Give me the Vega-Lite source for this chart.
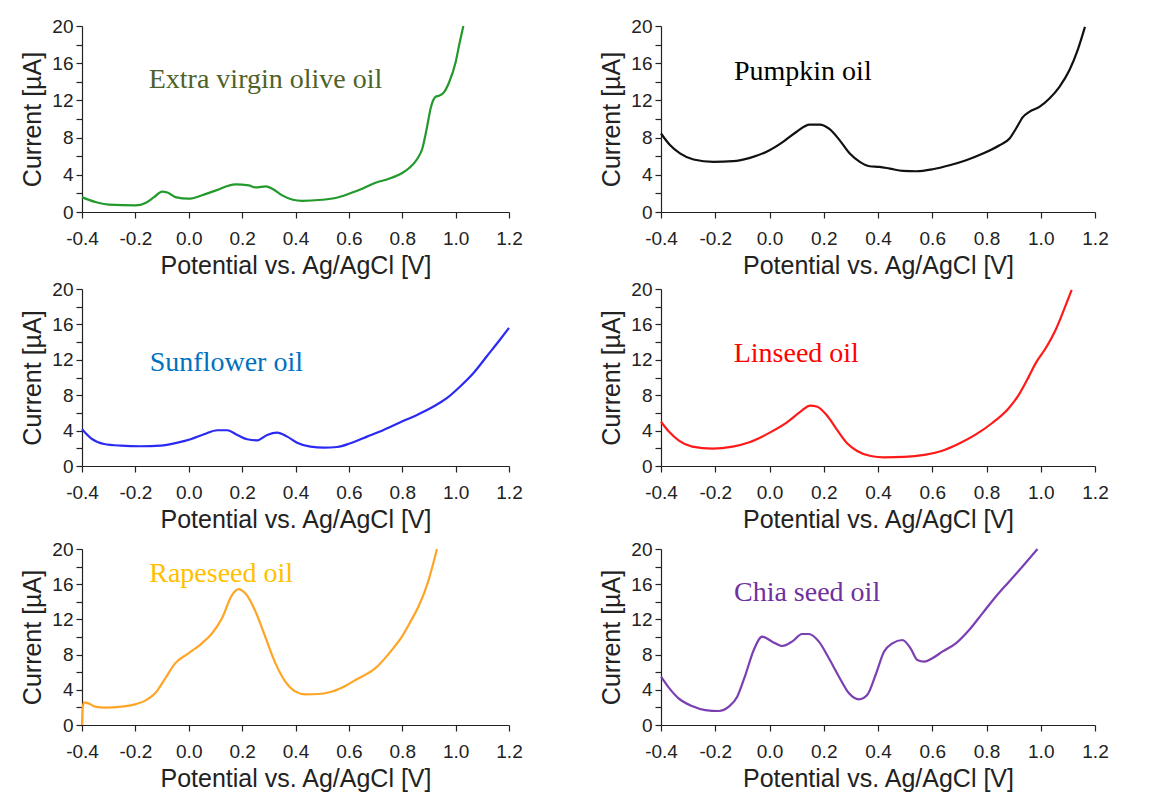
{
  "$schema": "https://vega.github.io/schema/vega-lite/v6.json",
  "background": "white",
  "padding": {"left": 20, "top": 17, "right": 5, "bottom": 5},
  "datasets": {
    "olive": [
      {"potential": -0.4, "current": 1.6}, {"potential": -0.35, "current": 1.07}, {"potential": -0.3, "current": 0.79},
      {"potential": -0.2, "current": 0.71}, {"potential": -0.16, "current": 1.0}, {"potential": -0.13, "current": 1.6},
      {"potential": -0.1, "current": 2.2}, {"potential": -0.08, "current": 2.1}, {"potential": -0.05, "current": 1.6},
      {"potential": 0.0, "current": 1.43}, {"potential": 0.05, "current": 1.8}, {"potential": 0.1, "current": 2.3},
      {"potential": 0.175, "current": 2.96}, {"potential": 0.225, "current": 2.86}, {"potential": 0.25, "current": 2.64},
      {"potential": 0.29, "current": 2.75}, {"potential": 0.3125, "current": 2.5}, {"potential": 0.35, "current": 1.79},
      {"potential": 0.39, "current": 1.32}, {"potential": 0.425, "current": 1.2}, {"potential": 0.5, "current": 1.32},
      {"potential": 0.55, "current": 1.5}, {"potential": 0.6, "current": 1.96}, {"potential": 0.65, "current": 2.5},
      {"potential": 0.7, "current": 3.14}, {"potential": 0.75, "current": 3.57}, {"potential": 0.8, "current": 4.2},
      {"potential": 0.825, "current": 4.7}, {"potential": 0.856, "current": 5.7}, {"potential": 0.875, "current": 6.8},
      {"potential": 0.894, "current": 9.3}, {"potential": 0.906, "current": 11.1}, {"potential": 0.925, "current": 12.4},
      {"potential": 0.9375, "current": 12.5}, {"potential": 0.956, "current": 12.86}, {"potential": 0.975, "current": 13.9},
      {"potential": 1.0, "current": 16.1}, {"potential": 1.015, "current": 18.2}, {"potential": 1.029, "current": 20}
    ],
    "pumpkin": [
      {"potential": -0.4, "current": 8.44}, {"potential": -0.367, "current": 7.2}, {"potential": -0.33, "current": 6.3},
      {"potential": -0.28, "current": 5.64}, {"potential": -0.207, "current": 5.39}, {"potential": -0.134, "current": 5.46},
      {"potential": -0.072, "current": 5.82}, {"potential": 0.0, "current": 6.64}, {"potential": 0.05, "current": 7.54},
      {"potential": 0.099, "current": 8.6}, {"potential": 0.148, "current": 9.4}, {"potential": 0.185, "current": 9.4},
      {"potential": 0.222, "current": 8.9}, {"potential": 0.259, "current": 7.7}, {"potential": 0.296, "current": 6.28},
      {"potential": 0.333, "current": 5.39}, {"potential": 0.369, "current": 4.92}, {"potential": 0.406, "current": 4.85},
      {"potential": 0.443, "current": 4.67}, {"potential": 0.492, "current": 4.42}, {"potential": 0.541, "current": 4.38},
      {"potential": 0.602, "current": 4.6}, {"potential": 0.664, "current": 5.03}, {"potential": 0.725, "current": 5.57},
      {"potential": 0.787, "current": 6.28}, {"potential": 0.848, "current": 7.18}, {"potential": 0.885, "current": 7.9},
      {"potential": 0.909, "current": 8.98}, {"potential": 0.934, "current": 10.2}, {"potential": 0.958, "current": 10.77},
      {"potential": 0.995, "current": 11.3}, {"potential": 1.032, "current": 12.2}, {"potential": 1.069, "current": 13.46},
      {"potential": 1.106, "current": 15.26}, {"potential": 1.136, "current": 17.4}, {"potential": 1.163, "current": 19.9}
    ],
    "sunflower": [
      {"potential": -0.4, "current": 4.15}, {"potential": -0.366, "current": 3.13}, {"potential": -0.317, "current": 2.49},
      {"potential": -0.254, "current": 2.3}, {"potential": -0.18, "current": 2.23}, {"potential": -0.105, "current": 2.3},
      {"potential": -0.042, "current": 2.64}, {"potential": 0.007, "current": 3.02}, {"potential": 0.057, "current": 3.58},
      {"potential": 0.107, "current": 4.04}, {"potential": 0.145, "current": 4.04}, {"potential": 0.182, "current": 3.51},
      {"potential": 0.219, "current": 3.02}, {"potential": 0.257, "current": 2.9}, {"potential": 0.294, "current": 3.51},
      {"potential": 0.331, "current": 3.77}, {"potential": 0.369, "current": 3.32}, {"potential": 0.406, "current": 2.64},
      {"potential": 0.456, "current": 2.19}, {"potential": 0.506, "current": 2.08}, {"potential": 0.556, "current": 2.15},
      {"potential": 0.606, "current": 2.57}, {"potential": 0.668, "current": 3.32}, {"potential": 0.73, "current": 4.08},
      {"potential": 0.793, "current": 4.94}, {"potential": 0.855, "current": 5.77}, {"potential": 0.917, "current": 6.72},
      {"potential": 0.967, "current": 7.66}, {"potential": 1.017, "current": 8.98}, {"potential": 1.067, "current": 10.5},
      {"potential": 1.117, "current": 12.4}, {"potential": 1.166, "current": 14.26}, {"potential": 1.2, "current": 15.6}
    ],
    "linseed": [
      {"potential": -0.4, "current": 5.0}, {"potential": -0.371, "current": 3.89}, {"potential": -0.334, "current": 2.87},
      {"potential": -0.285, "current": 2.19}, {"potential": -0.21, "current": 1.96}, {"potential": -0.136, "current": 2.19},
      {"potential": -0.074, "current": 2.68}, {"potential": 0.001, "current": 3.77}, {"potential": 0.063, "current": 4.9},
      {"potential": 0.112, "current": 6.08}, {"potential": 0.15, "current": 6.83}, {"potential": 0.174, "current": 6.72},
      {"potential": 0.212, "current": 5.7}, {"potential": 0.249, "current": 4.08}, {"potential": 0.286, "current": 2.57},
      {"potential": 0.323, "current": 1.7}, {"potential": 0.373, "current": 1.13}, {"potential": 0.423, "current": 0.98},
      {"potential": 0.497, "current": 1.02}, {"potential": 0.571, "current": 1.25}, {"potential": 0.634, "current": 1.7},
      {"potential": 0.696, "current": 2.49}, {"potential": 0.758, "current": 3.51}, {"potential": 0.82, "current": 4.83},
      {"potential": 0.882, "current": 6.53}, {"potential": 0.919, "current": 8.04}, {"potential": 0.956, "current": 10.1},
      {"potential": 0.981, "current": 11.6}, {"potential": 1.018, "current": 13.3}, {"potential": 1.055, "current": 15.4},
      {"potential": 1.086, "current": 17.7}, {"potential": 1.114, "current": 19.9}
    ],
    "rapeseed": [
      {"potential": -0.4, "current": 0}, {"potential": -0.397, "current": 2.08}, {"potential": -0.391, "current": 2.58},
      {"potential": -0.376, "current": 2.46}, {"potential": -0.351, "current": 2.08}, {"potential": -0.314, "current": 1.97},
      {"potential": -0.251, "current": 2.08}, {"potential": -0.201, "current": 2.35}, {"potential": -0.163, "current": 2.77},
      {"potential": -0.126, "current": 3.6}, {"potential": -0.088, "current": 5.3}, {"potential": -0.051, "current": 7.0},
      {"potential": -0.001, "current": 8.14}, {"potential": 0.049, "current": 9.28}, {"potential": 0.087, "current": 10.4},
      {"potential": 0.124, "current": 12.1}, {"potential": 0.162, "current": 14.77}, {"potential": 0.187, "current": 15.45},
      {"potential": 0.212, "current": 14.96}, {"potential": 0.25, "current": 12.9}, {"potential": 0.287, "current": 10.0},
      {"potential": 0.325, "current": 7.0}, {"potential": 0.362, "current": 4.92}, {"potential": 0.4, "current": 3.79},
      {"potential": 0.437, "current": 3.48}, {"potential": 0.487, "current": 3.52}, {"potential": 0.537, "current": 3.8},
      {"potential": 0.59, "current": 4.5}, {"potential": 0.63, "current": 5.2}, {"potential": 0.697, "current": 6.4},
      {"potential": 0.763, "current": 8.6}, {"potential": 0.8, "current": 10.1}, {"potential": 0.83, "current": 11.7},
      {"potential": 0.863, "current": 13.6}, {"potential": 0.897, "current": 16.3}, {"potential": 0.919, "current": 18.7},
      {"potential": 0.93, "current": 20}
    ],
    "chia": [
      {"potential": -0.4, "current": 5.49}, {"potential": -0.372, "current": 4.28}, {"potential": -0.335, "current": 3.03},
      {"potential": -0.286, "current": 2.16}, {"potential": -0.237, "current": 1.7}, {"potential": -0.187, "current": 1.59},
      {"potential": -0.15, "current": 2.08}, {"potential": -0.119, "current": 3.22}, {"potential": -0.089, "current": 5.68},
      {"potential": -0.058, "current": 8.52}, {"potential": -0.027, "current": 10.04}, {"potential": 0.01, "current": 9.47},
      {"potential": 0.047, "current": 8.98}, {"potential": 0.083, "current": 9.47}, {"potential": 0.12, "current": 10.34},
      {"potential": 0.145, "current": 10.34}, {"potential": 0.182, "current": 9.47}, {"potential": 0.219, "current": 7.58},
      {"potential": 0.256, "current": 5.49}, {"potential": 0.293, "current": 3.6}, {"potential": 0.33, "current": 2.92},
      {"potential": 0.36, "current": 3.41}, {"potential": 0.391, "current": 5.68}, {"potential": 0.422, "current": 8.33},
      {"potential": 0.453, "current": 9.28}, {"potential": 0.49, "current": 9.66}, {"potential": 0.52, "current": 8.71},
      {"potential": 0.545, "current": 7.39}, {"potential": 0.57, "current": 7.2}, {"potential": 0.6, "current": 7.58},
      {"potential": 0.637, "current": 8.33}, {"potential": 0.687, "current": 9.28}, {"potential": 0.736, "current": 10.8},
      {"potential": 0.785, "current": 12.69}, {"potential": 0.834, "current": 14.58}, {"potential": 0.883, "current": 16.29},
      {"potential": 0.932, "current": 17.99}, {"potential": 0.988, "current": 20}
    ],
    "labels": [
      {"panel": "olive", "label": "Extra virgin olive oil", "potential": -0.15, "current": 13.3},
      {"panel": "pumpkin", "label": "Pumpkin oil", "potential": -0.131, "current": 14.2},
      {"panel": "sunflower", "label": "Sunflower oil", "potential": -0.146, "current": 10.7},
      {"panel": "linseed", "label": "Linseed oil", "potential": -0.132, "current": 11.75},
      {"panel": "rapeseed", "label": "Rapeseed oil", "potential": -0.148, "current": 16.25},
      {"panel": "chia", "label": "Chia seed oil", "potential": -0.131, "current": 14.1}
    ]
  },
  "vconcat": [
    {
      "spacing": 76,
      "hconcat": [
        {
          "width": 427, "height": 186,
          "resolve": {"axis": {"y": "independent"}},
          "layer": [
            {"data": {"name": "olive"}, "mark": {"type": "line", "color": "#22992a", "strokeWidth": 2.2, "interpolate": "monotone"},
             "encoding": {
               "x": {"field": "potential", "type": "quantitative", "scale": {"domain": [-0.4, 1.2], "nice": false, "zero": false}, "axis": {"title": "Potential vs. Ag/AgCl [V]", "values": [-0.4, -0.2, 0, 0.2, 0.4, 0.6, 0.8, 1.0, 1.2], "labelExpr": "replace(format(datum.value, '.1f'), '\u2212', '-')"}},
               "y": {"field": "current", "type": "quantitative", "scale": {"domain": [0, 20], "nice": false}, "axis": {"title": "Current [\u00b5A]", "orient": "left", "values": [0, 4, 8, 12, 16, 20]}}
             }},
            {"data": {"name": "labels"}, "transform": [{"filter": "datum.panel == 'olive'"}], "mark": {"type": "text", "align": "left", "baseline": "alphabetic", "font": "Liberation Serif", "fontSize": 28, "color": "#4f6228"},
             "encoding": {"x": {"field": "potential", "type": "quantitative"}, "y": {"field": "current", "type": "quantitative", "axis": {"orient": "left", "values": [2, 6, 10, 14, 18], "labels": false, "title": null, "domain": false}}, "text": {"field": "label"}}}
          ]
        },
        {
          "width": 434, "height": 186,
          "resolve": {"axis": {"y": "independent"}},
          "layer": [
            {"data": {"name": "pumpkin"}, "mark": {"type": "line", "color": "#111111", "strokeWidth": 2.2, "interpolate": "monotone"},
             "encoding": {
               "x": {"field": "potential", "type": "quantitative", "scale": {"domain": [-0.4, 1.2], "nice": false, "zero": false}, "axis": {"title": "Potential vs. Ag/AgCl [V]", "values": [-0.4, -0.2, 0, 0.2, 0.4, 0.6, 0.8, 1.0, 1.2], "labelExpr": "replace(format(datum.value, '.1f'), '\u2212', '-')"}},
               "y": {"field": "current", "type": "quantitative", "scale": {"domain": [0, 20], "nice": false}, "axis": {"title": "Current [\u00b5A]", "orient": "left", "values": [0, 4, 8, 12, 16, 20]}}
             }},
            {"data": {"name": "labels"}, "transform": [{"filter": "datum.panel == 'pumpkin'"}], "mark": {"type": "text", "align": "left", "baseline": "alphabetic", "font": "Liberation Serif", "fontSize": 28, "color": "#000000"},
             "encoding": {"x": {"field": "potential", "type": "quantitative"}, "y": {"field": "current", "type": "quantitative", "axis": {"orient": "left", "values": [2, 6, 10, 14, 18], "labels": false, "title": null, "domain": false}}, "text": {"field": "label"}}}
          ]
        }
      ]
    },
    {
      "spacing": 8,
      "vconcat": [
        {
          "spacing": 76,
          "hconcat": [
            {
              "width": 427, "height": 177,
              "resolve": {"axis": {"y": "independent"}},
              "layer": [
                {"data": {"name": "sunflower"}, "mark": {"type": "line", "color": "#2a2af2", "strokeWidth": 2.2, "interpolate": "monotone"},
                 "encoding": {
                   "x": {"field": "potential", "type": "quantitative", "scale": {"domain": [-0.4, 1.2], "nice": false, "zero": false}, "axis": {"title": "Potential vs. Ag/AgCl [V]", "values": [-0.4, -0.2, 0, 0.2, 0.4, 0.6, 0.8, 1.0, 1.2], "labelExpr": "replace(format(datum.value, '.1f'), '\u2212', '-')"}},
                   "y": {"field": "current", "type": "quantitative", "scale": {"domain": [0, 20], "nice": false}, "axis": {"title": "Current [\u00b5A]", "orient": "left", "values": [0, 4, 8, 12, 16, 20]}}
                 }},
                {"data": {"name": "labels"}, "transform": [{"filter": "datum.panel == 'sunflower'"}], "mark": {"type": "text", "align": "left", "baseline": "alphabetic", "font": "Liberation Serif", "fontSize": 28, "color": "#0070c0"},
                 "encoding": {"x": {"field": "potential", "type": "quantitative"}, "y": {"field": "current", "type": "quantitative", "axis": {"orient": "left", "values": [2, 6, 10, 14, 18], "labels": false, "title": null, "domain": false}}, "text": {"field": "label"}}}
              ]
            },
            {
              "width": 434, "height": 177,
              "resolve": {"axis": {"y": "independent"}},
              "layer": [
                {"data": {"name": "linseed"}, "mark": {"type": "line", "color": "#ff1a1a", "strokeWidth": 2.2, "interpolate": "monotone"},
                 "encoding": {
                   "x": {"field": "potential", "type": "quantitative", "scale": {"domain": [-0.4, 1.2], "nice": false, "zero": false}, "axis": {"title": "Potential vs. Ag/AgCl [V]", "values": [-0.4, -0.2, 0, 0.2, 0.4, 0.6, 0.8, 1.0, 1.2], "labelExpr": "replace(format(datum.value, '.1f'), '\u2212', '-')"}},
                   "y": {"field": "current", "type": "quantitative", "scale": {"domain": [0, 20], "nice": false}, "axis": {"title": "Current [\u00b5A]", "orient": "left", "values": [0, 4, 8, 12, 16, 20]}}
                 }},
                {"data": {"name": "labels"}, "transform": [{"filter": "datum.panel == 'linseed'"}], "mark": {"type": "text", "align": "left", "baseline": "alphabetic", "font": "Liberation Serif", "fontSize": 28, "color": "#ff0000"},
                 "encoding": {"x": {"field": "potential", "type": "quantitative"}, "y": {"field": "current", "type": "quantitative", "axis": {"orient": "left", "values": [2, 6, 10, 14, 18], "labels": false, "title": null, "domain": false}}, "text": {"field": "label"}}}
              ]
            }
          ]
        },
        {
          "spacing": 76,
          "hconcat": [
            {
              "width": 427, "height": 176,
              "resolve": {"axis": {"y": "independent"}},
              "layer": [
                {"data": {"name": "rapeseed"}, "mark": {"type": "line", "color": "#ffa526", "strokeWidth": 2.2, "interpolate": "monotone"},
                 "encoding": {
                   "x": {"field": "potential", "type": "quantitative", "scale": {"domain": [-0.4, 1.2], "nice": false, "zero": false}, "axis": {"title": "Potential vs. Ag/AgCl [V]", "values": [-0.4, -0.2, 0, 0.2, 0.4, 0.6, 0.8, 1.0, 1.2], "labelExpr": "replace(format(datum.value, '.1f'), '\u2212', '-')"}},
                   "y": {"field": "current", "type": "quantitative", "scale": {"domain": [0, 20], "nice": false}, "axis": {"title": "Current [\u00b5A]", "orient": "left", "values": [0, 4, 8, 12, 16, 20]}}
                 }},
                {"data": {"name": "labels"}, "transform": [{"filter": "datum.panel == 'rapeseed'"}], "mark": {"type": "text", "align": "left", "baseline": "alphabetic", "font": "Liberation Serif", "fontSize": 28, "color": "#ffc000"},
                 "encoding": {"x": {"field": "potential", "type": "quantitative"}, "y": {"field": "current", "type": "quantitative", "axis": {"orient": "left", "values": [2, 6, 10, 14, 18], "labels": false, "title": null, "domain": false}}, "text": {"field": "label"}}}
              ]
            },
            {
              "width": 434, "height": 176,
              "resolve": {"axis": {"y": "independent"}},
              "layer": [
                {"data": {"name": "chia"}, "mark": {"type": "line", "color": "#7b3fb2", "strokeWidth": 2.2, "interpolate": "monotone"},
                 "encoding": {
                   "x": {"field": "potential", "type": "quantitative", "scale": {"domain": [-0.4, 1.2], "nice": false, "zero": false}, "axis": {"title": "Potential vs. Ag/AgCl [V]", "values": [-0.4, -0.2, 0, 0.2, 0.4, 0.6, 0.8, 1.0, 1.2], "labelExpr": "replace(format(datum.value, '.1f'), '\u2212', '-')"}},
                   "y": {"field": "current", "type": "quantitative", "scale": {"domain": [0, 20], "nice": false}, "axis": {"title": "Current [\u00b5A]", "orient": "left", "values": [0, 4, 8, 12, 16, 20]}}
                 }},
                {"data": {"name": "labels"}, "transform": [{"filter": "datum.panel == 'chia'"}], "mark": {"type": "text", "align": "left", "baseline": "alphabetic", "font": "Liberation Serif", "fontSize": 28, "color": "#7030a0"},
                 "encoding": {"x": {"field": "potential", "type": "quantitative"}, "y": {"field": "current", "type": "quantitative", "axis": {"orient": "left", "values": [2, 6, 10, 14, 18], "labels": false, "title": null, "domain": false}}, "text": {"field": "label"}}}
              ]
            }
          ]
        }
      ]
    }
  ],
  "spacing": 2,
  "config": {
    "view": {"stroke": null},
    "axis": {
      "grid": false,
      "domainColor": "#222222",
      "domainWidth": 1.2,
      "tickColor": "#222222",
      "tickWidth": 1.2,
      "tickSize": 6,
      "labelFont": "Liberation Sans",
      "labelFontSize": 19,
      "labelColor": "#222222",
      "labelPadding": 3,
      "labelOverlap": false,
      "titleFont": "Liberation Sans",
      "titleFontSize": 25,
      "titleFontWeight": "normal",
      "titleColor": "#222222",
      "titlePadding": 4,
      "labelFlush": false
    },
    "axisX": {"labelPadding": 11, "titlePadding": 5},
    "axisY": {"titlePadding": 6}
  }
}
